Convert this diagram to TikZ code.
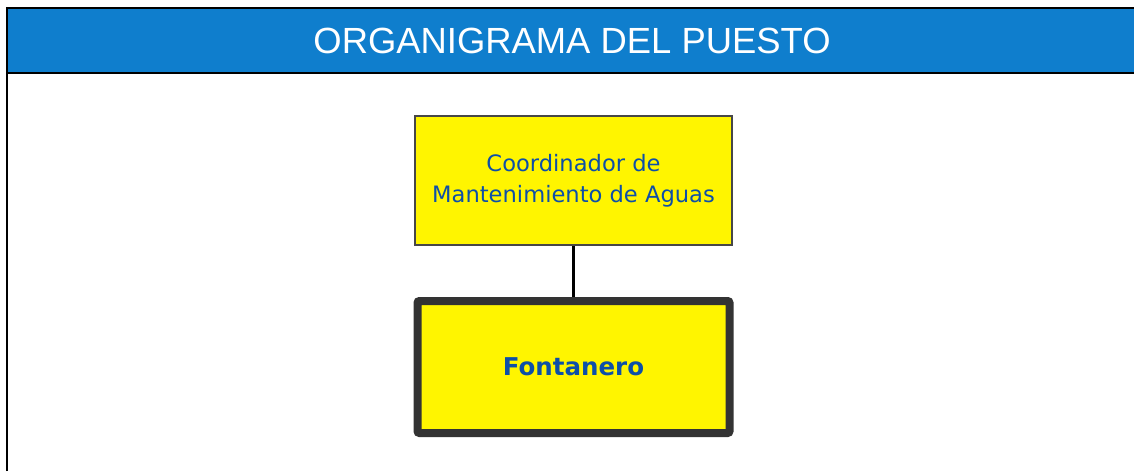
\documentclass[tikz,border=0pt]{standalone}
\usepackage{fontspec}
\setmainfont{DejaVu Sans}
\newfontfamily\titlefont{Liberation Sans}
\usetikzlibrary{positioning}
\definecolor{azulcab}{HTML}{0F7ECD}
\definecolor{azultxt}{HTML}{0D4FA8}
\definecolor{amarillo}{HTML}{FFF500}
\definecolor{grisbor}{HTML}{333333}
\tikzset{
    x=1pt, y=-1pt, % one unit is one pixel of the page, y runs down
    puesto/.style={fill=amarillo, text=azultxt, align=center, font=\fontsize{22.6}{31}\selectfont}, % every box of the chart
    superior/.style={puesto, draw=grisbor!90, line width=2pt, minimum width=317pt, minimum height=129pt}, % the boss
    actual/.style={puesto, draw=grisbor, line width=8pt, rounded corners=2pt, minimum width=312pt, minimum height=132pt, font=\fontsize{24.5}{31}\selectfont\bfseries} % the post itself
}
\begin{document}
\begin{tikzpicture}
		\useasboundingbox (0,0) rectangle (1134,471);
		% Marco y cabecera
		\fill[azulcab] (7,8) rectangle (1134,73);
		\draw[line width=2pt] (7,471) -- (7,8) -- (1134,8);
		\draw[line width=2pt] (7,73) -- (1134,73);
		\node[text=white, font=\titlefont\fontsize{36.4}{40}\selectfont](titulo) at (572,41) {ORGANIGRAMA DEL PUESTO};
		
		% Puestos
		\node[superior](coord) at (573.5,180.5) {Coordinador de\\Mantenimiento de Aguas};
		\node[actual, below=51pt of coord](fontanero) {Fontanero};
		
		% Dependencia
		\draw[line width=2.2pt] (coord) -- (fontanero);
	\end{tikzpicture}
\end{document}
